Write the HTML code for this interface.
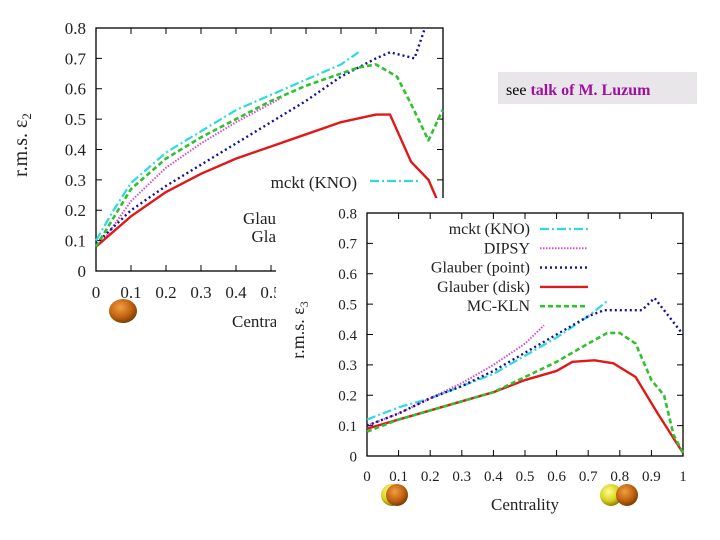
<!DOCTYPE html>
<html><head><meta charset="utf-8"><style>
html,body{margin:0;padding:0;background:#fff;width:720px;height:540px;overflow:hidden}
svg{display:block;font-family:"Liberation Serif",serif}
</style></head><body>
<svg id="svg" width="720" height="540" viewBox="0 0 720 540">
<defs>
<radialGradient id="gOr" cx="0.4" cy="0.35" r="0.7"><stop offset="0" stop-color="#f0a040"/><stop offset="0.6" stop-color="#c06010"/><stop offset="1" stop-color="#6a3a00"/></radialGradient>
<radialGradient id="gYe" cx="0.4" cy="0.35" r="0.7"><stop offset="0" stop-color="#ffff90"/><stop offset="0.6" stop-color="#d8d020"/><stop offset="1" stop-color="#807000"/></radialGradient>
</defs>
<g id="p1"></g>
<rect x="276" y="198" width="444" height="342" fill="#fff"/>
<g id="p2"></g>
<g>
<rect x="498" y="72" width="199" height="32" fill="#e8e6e8"/>
<text x="506" y="95" font-size="16"><tspan fill="#000">see </tspan><tspan fill="#a010a0" font-weight="bold">talk of M. Luzum</tspan></text>
</g>
<g>
<ellipse cx="123" cy="311" rx="14" ry="12" fill="url(#gOr)"/>
<circle cx="392" cy="495" r="11" fill="url(#gYe)"/>
<circle cx="397" cy="495" r="11" fill="url(#gOr)"/>
<circle cx="611" cy="495" r="11" fill="url(#gYe)"/>
<circle cx="627" cy="495" r="11" fill="url(#gOr)"/>
</g>
</svg>
<script>
const xTicks=["0","0.1","0.2","0.3","0.4","0.5","0.6","0.7","0.8","0.9","1"];
const yTicks=["0","0.1","0.2","0.3","0.4","0.5","0.6","0.7","0.8"];
const seriesNames=["mckt (KNO)","DIPSY","Glauber (point)","Glauber (disk)","MC-KLN"];
// epsilon2 series
const e2_mckt_x=[0,0.05,0.1,0.2,0.3,0.4,0.5,0.6,0.7,0.75];
const e2_mckt_y=[0.1,0.2,0.29,0.39,0.46,0.53,0.58,0.63,0.68,0.72];
const e2_dipsy_x=[0.02,0.1,0.2,0.3,0.4,0.53];
const e2_dipsy_y=[0.1,0.23,0.34,0.42,0.49,0.57];
const e2_point_x=[0,0.1,0.2,0.3,0.4,0.5,0.6,0.7,0.8,0.84,0.91,0.94];
const e2_point_y=[0.09,0.2,0.28,0.35,0.42,0.49,0.56,0.64,0.7,0.72,0.7,0.8];
const e2_disk_x=[0,0.1,0.2,0.3,0.4,0.5,0.6,0.7,0.78,0.8,0.84,0.9,0.95,0.98];
const e2_disk_y=[0.08,0.18,0.26,0.32,0.37,0.41,0.45,0.49,0.51,0.515,0.515,0.36,0.3,0.22];
const e2_kln_x=[0,0.1,0.2,0.3,0.4,0.5,0.6,0.7,0.75,0.8,0.86,0.9,0.95,0.99];
const e2_kln_y=[0.08,0.27,0.37,0.44,0.5,0.56,0.61,0.65,0.67,0.68,0.64,0.55,0.43,0.53];
// epsilon3 series
const e3_mckt_x=[0,0.1,0.2,0.3,0.4,0.5,0.6,0.7,0.76];
const e3_mckt_y=[0.12,0.16,0.19,0.23,0.27,0.33,0.39,0.46,0.51];
const e3_dipsy_x=[0,0.1,0.2,0.3,0.4,0.5,0.56];
const e3_dipsy_y=[0.1,0.14,0.19,0.24,0.3,0.37,0.43];
const e3_point_x=[0,0.1,0.2,0.3,0.4,0.5,0.6,0.7,0.75,0.87,0.91,1.0];
const e3_point_y=[0.1,0.14,0.19,0.23,0.28,0.34,0.4,0.46,0.48,0.48,0.52,0.4];
const e3_disk_x=[0,0.1,0.2,0.3,0.4,0.5,0.6,0.65,0.72,0.78,0.85,0.92,1.0];
const e3_disk_y=[0.09,0.12,0.15,0.18,0.21,0.25,0.28,0.31,0.315,0.305,0.26,0.14,0.01];
const e3_kln_x=[0,0.1,0.2,0.3,0.4,0.5,0.6,0.7,0.76,0.8,0.85,0.9,0.94,0.97,1.0];
const e3_kln_y=[0.08,0.12,0.15,0.18,0.21,0.26,0.31,0.37,0.405,0.405,0.37,0.25,0.2,0.07,0.01];

const NS="http://www.w3.org/2000/svg";
const styles=[
 {c:"#30d8e0",d:"9,3,2,3",w:2.2},
 {c:"#d050d0",d:"1.5,1.5",w:2},
 {c:"#10109a",d:"2,3",w:2.4},
 {c:"#e01818",d:"",w:2.4},
 {c:"#30c030",d:"5,3",w:2.6}];
function el(parent,tag,attrs,text){const e=document.createElementNS(NS,tag);for(const k in attrs)e.setAttribute(k,attrs[k]);if(text!==undefined)e.textContent=text;parent.appendChild(e);return e;}

function chart(g,cfg,xs,ys){
 const sx=v=>cfg.x0+v*(cfg.x1-cfg.x0);
 const sy=v=>cfg.yb-v/0.8*(cfg.yb-cfg.yt);
 const fr=el(g,"rect",{x:cfg.x0,y:cfg.yt,width:cfg.fr-cfg.x0,height:cfg.yb-cfg.yt,fill:"none",stroke:"#000","stroke-width":1.3});
 
 
 xTicks.forEach((t,i)=>{const v=i/10;const x=sx(v);if(x>cfg.fr+1)return;
  el(g,"line",{x1:x,x2:x,y1:cfg.yb,y2:cfg.yb-6,stroke:"#000"});
  el(g,"line",{x1:x,x2:x,y1:cfg.yt,y2:cfg.yt+6,stroke:"#000"});
  const tx=el(g,"text",{x:x,y:cfg.yb+cfg.fs+10,"font-size":cfg.fs,"text-anchor":"middle",fill:"#222"},t);
  
  });
 yTicks.forEach((t,i)=>{const v=i/10;const y=sy(v);
  el(g,"line",{x1:cfg.x0,x2:cfg.x0+6,y1:y,y2:y,stroke:"#000"});
  el(g,"line",{x1:cfg.fr,x2:cfg.fr-6,y1:y,y2:y,stroke:"#000"});
  const ty=el(g,"text",{x:cfg.x0-10,y:y+cfg.fs*0.35,"font-size":cfg.fs,"text-anchor":"end",fill:"#222"},t);
  
  });
 xs.forEach((xa,k)=>{const ya=ys[k];const s=styles[k];
  const p=el(g,"polyline",{points:xa.map((x,i)=>sx(x)+","+sy(ya[i])).join(" "),fill:"none",stroke:s.c,"stroke-width":s.w,"stroke-dasharray":s.d,"stroke-linejoin":"round"});
  
  });
}
const g1=document.getElementById("p1"),g2=document.getElementById("p2");
chart(g1,{x0:96,x1:446,fr:443,yt:28,yb:271,fs:17},
 [e2_mckt_x,e2_dipsy_x,e2_point_x,e2_disk_x,e2_kln_x],[e2_mckt_y,e2_dipsy_y,e2_point_y,e2_disk_y,e2_kln_y]);
chart(g2,{x0:367,x1:683,fr:683,yt:213,yb:456,fs:15},
 [e3_mckt_x,e3_dipsy_x,e3_point_x,e3_disk_x,e3_kln_x],[e3_mckt_y,e3_dipsy_y,e3_point_y,e3_disk_y,e3_kln_y]);
const l1=el(g1,"text",{x:357,y:188,"font-size":17,"text-anchor":"end",fill:"#222"},"mckt (KNO)");


el(g1,"line",{x1:370,x2:420,y1:181,y2:181,stroke:styles[0].c,"stroke-width":2.2,"stroke-dasharray":styles[0].d});
const l2=el(g1,"text",{x:276,y:224,"font-size":17,"text-anchor":"end",fill:"#222"},"Glau");


const l3=el(g1,"text",{x:276,y:242,"font-size":17,"text-anchor":"end",fill:"#222"},"Gla");


const yl1=el(g1,"text",{transform:"translate(27,145) rotate(-90)","font-size":20,"text-anchor":"middle",fill:"#222"},"r.m.s. ε");


el(yl1,"tspan",{"font-size":13,dy:4},"2");
const xl1=el(g1,"text",{x:232,y:327,"font-size":17,fill:"#222"},"Centra");


seriesNames.forEach((n,i)=>{const y=229+i*19.3;
 const t=el(g2,"text",{x:530,y:y+5,"font-size":16,"text-anchor":"end",fill:"#222"},n);
 
 
 el(g2,"line",{x1:540,x2:588,y1:y,y2:y,stroke:styles[i].c,"stroke-width":styles[i].w,"stroke-dasharray":styles[i].d});});
const yl2=el(g2,"text",{transform:"translate(304,330) rotate(-90)","font-size":18,"text-anchor":"middle",fill:"#222"},"r.m.s. ε");


el(yl2,"tspan",{"font-size":12,dy:4},"3");
const xl2=el(g2,"text",{x:525,y:510,"font-size":17,"text-anchor":"middle",fill:"#222"},"Centrality");


</script>
</body></html>
